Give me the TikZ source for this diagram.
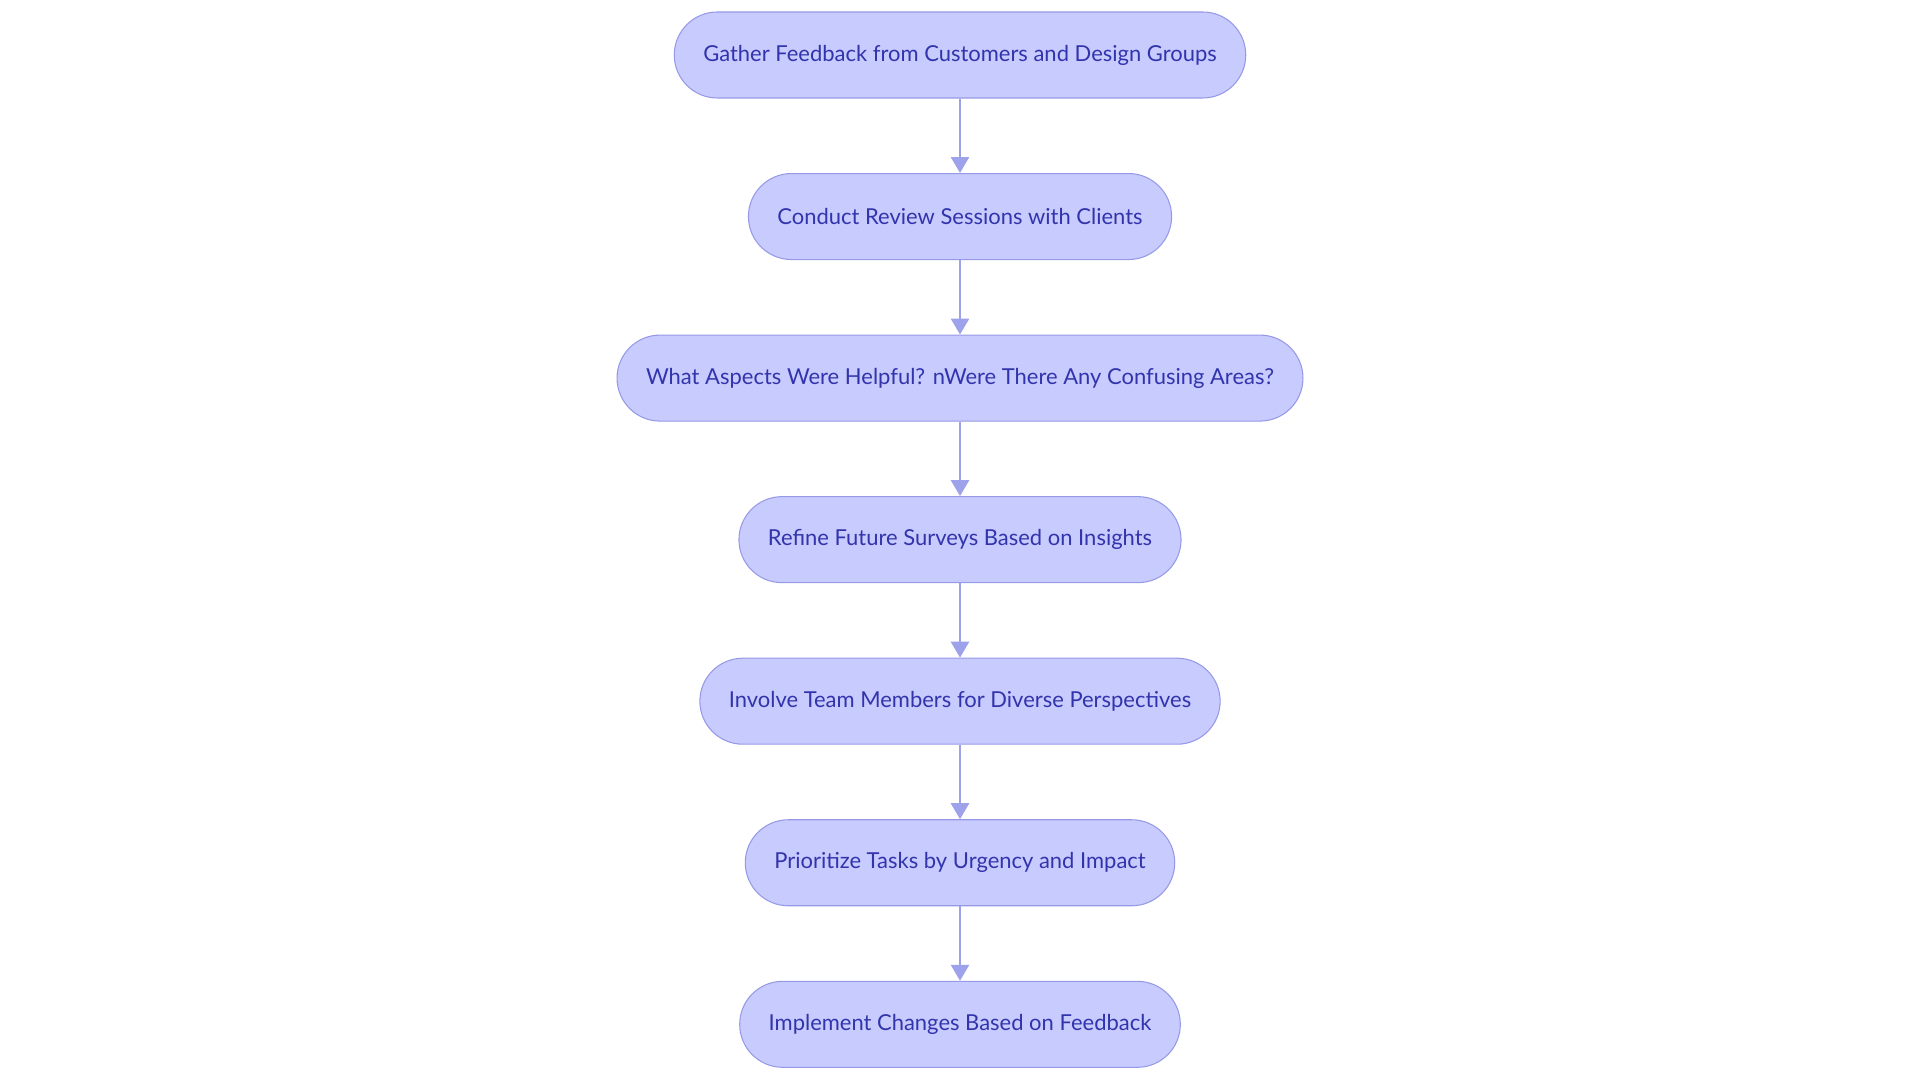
\documentclass[tikz,border=0pt]{standalone}
\usepackage{fontspec}
\setmainfont{Lato}
\usetikzlibrary{arrows.meta,positioning}

\definecolor{stepfill}{RGB}{200,203,254}
\definecolor{stepline}{RGB}{150,154,230}
\definecolor{steptext}{RGB}{50,52,172}
\definecolor{steparrow}{RGB}{158,162,234}

\tikzset{
  stepbox/.style={draw=stepline,fill=stepfill,text=steptext,line width=0.6pt,
    rounded corners=0.86cm,minimum height=1.72cm,inner xsep=0.58cm,
    font=\fontsize{12.5}{15}\selectfont},
  steplink/.style={-{Triangle[length=0.32cm,width=0.36cm]},draw=steparrow,line width=1.5pt}
}

\begin{document}
\begin{tikzpicture}[node distance=1.49cm]

		\useasboundingbox (0,0) rectangle (38.4,21.66);
		\coordinate (top) at (19.2,20.56);

		\node [stepbox] (g) at (top) {Gather Feedback from Customers and Design Groups};
		\node [stepbox,below=of g] (c) {Conduct Review Sessions with Clients};
		\node [stepbox,below=of c] (w) {What Aspects Were Helpful? nWere There Any Confusing Areas?};
		\node [stepbox,below=of w] (r) {Refine Future Surveys Based on Insights};
		\node [stepbox,below=of r] (t) {Involve Team Members for Diverse Perspectives};
		\node [stepbox,below=of t] (p) {Prioritize Tasks by Urgency and Impact};
		\node [stepbox,below=of p] (i) {Implement Changes Based on Feedback};

		\foreach \a/\b in {g/c,c/w,w/r,r/t,t/p,p/i}
			\draw [steplink] (\a) -- (\b) ;

\end{tikzpicture}
\end{document}
